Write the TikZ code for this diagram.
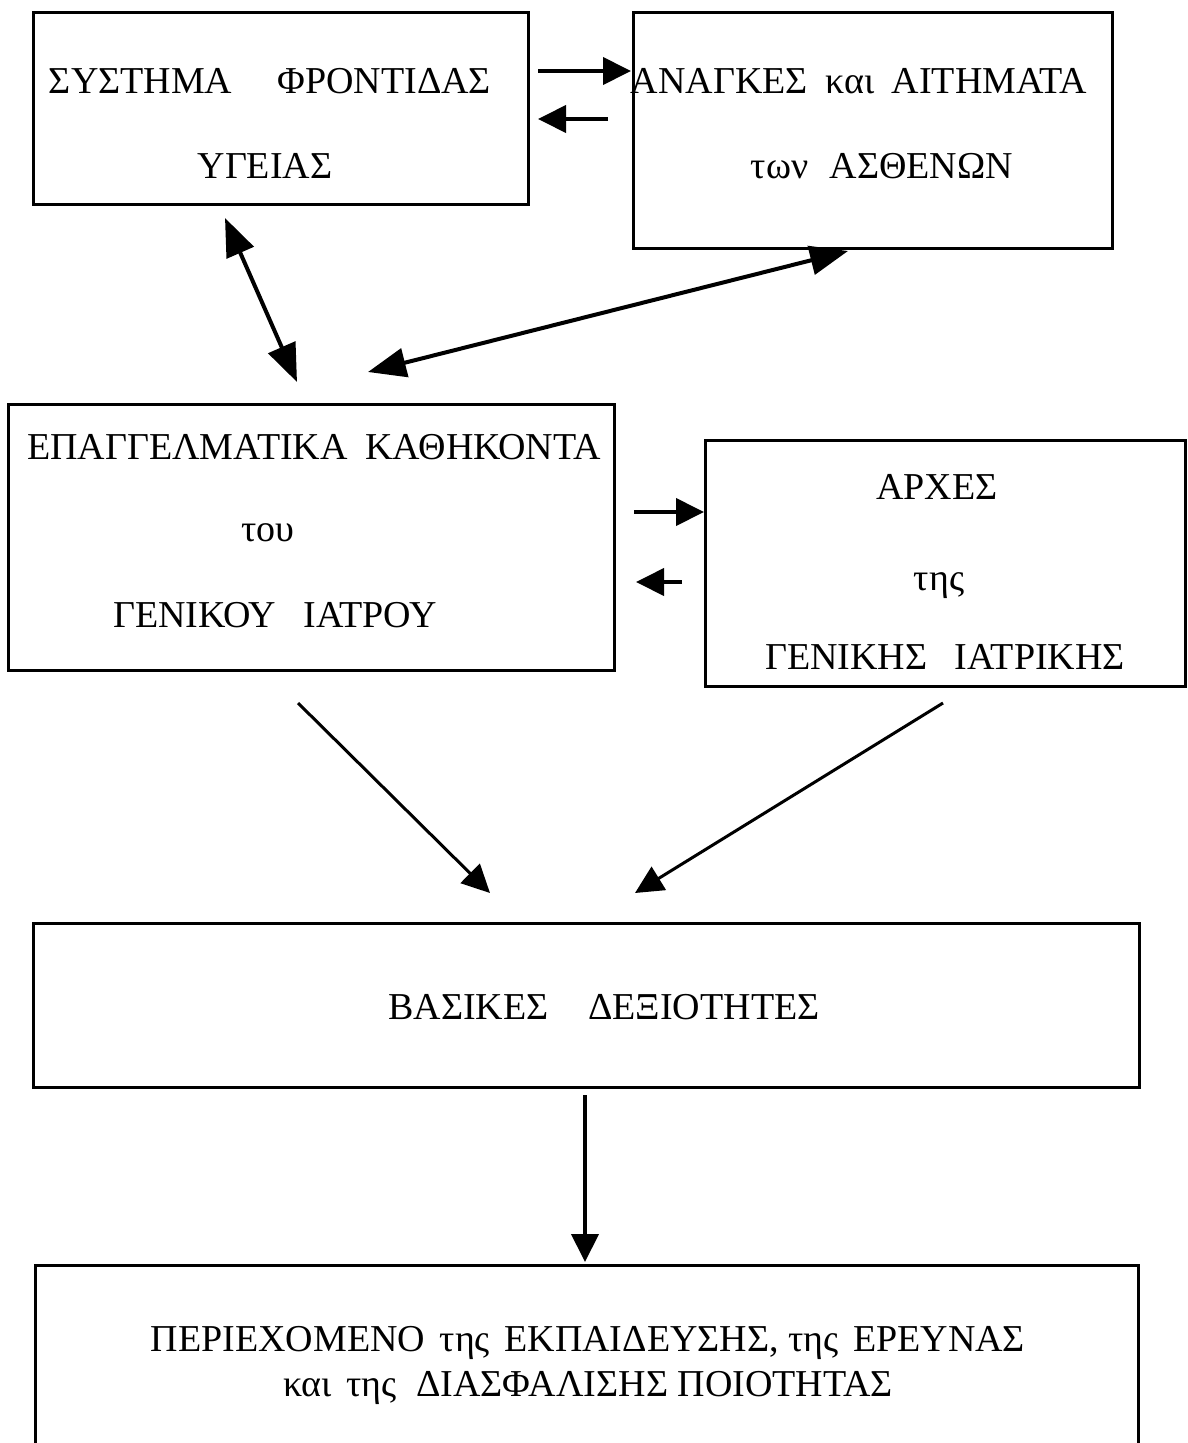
\documentclass[tikz,border=0pt]{standalone}
\usepackage{fontspec}
\setmainfont{Liberation Serif}
\usetikzlibrary{arrows.meta}
\tikzset{
  box/.style={draw=black, line width=3pt, rectangle, inner sep=0pt},
  lbl/.style={anchor=base, inner sep=0pt, font=\fontsize{38}{44}\selectfont},
  lblb/.style={anchor=base, inner sep=0pt, font=\fontsize{38}{44}\selectfont},
  arr/.style={line width=4pt, -{Triangle[length=28pt,width=27pt]}},
  darr/.style={line width=4pt, {Triangle[length=38pt,width=29pt]}-{Triangle[length=38pt,width=29pt]}}
}
\begin{document}
\begin{tikzpicture}[x=1pt,y=-1pt]
\clip (0,0) rectangle (1187,1443);
\fill[white] (0,0) rectangle (1187,1443);
% boxes
\node[box, minimum width=495pt, minimum height=192pt] (b1) at (280.5,108) {};
\node[box, minimum width=479pt, minimum height=236pt] (b2) at (872.5,130) {};
\node[box, minimum width=606pt, minimum height=266pt] (b3) at (311,537) {};
\node[box, minimum width=480pt, minimum height=246pt] (b4) at (945,563) {};
\node[box, minimum width=1106pt, minimum height=164pt] (b5) at (586,1005) {};
\node[box, minimum width=1103pt, minimum height=200pt] (b6) at (586.5,1365) {};
% texts
\node[lbl] (t1a) at (270,93) {ΣΥΣΤΗΜΑ\hspace{45pt}ΦΡΟΝΤΙΔΑΣ};
\node[lbl] (t1b) at (265,178) {ΥΓΕΙΑΣ};
\node[lbl] (t2a) at (859,93) {ΑΝΑΓΚΕΣ\hspace{8pt} και\hspace{8pt} ΑΙΤΗΜΑΤΑ};
\node[lbl] (t2b) at (882,178) {των\hspace{12pt} ΑΣΘΕΝΩΝ};
\node[lbl] (t3a) at (314,459) {ΕΠΑΓΓΕΛΜΑΤΙΚΑ\hspace{8pt} ΚΑΘΗΚΟΝΤΑ};
\node[lbl] (t3b) at (268,541) {του};
\node[lbl] (t3c) at (275,627) {ΓΕΝΙΚΟΥ\hspace{18pt} ΙΑΤΡΟΥ};
\node[lbl] (t4a) at (937,499) {ΑΡΧΕΣ};
\node[lbl] (t4b) at (939,590) {της};
\node[lbl] (t4c) at (945,669) {ΓΕΝΙΚΗΣ\hspace{18pt} ΙΑΤΡΙΚΗΣ};
\node[lbl] (t5) at (604,1019) {ΒΑΣΙΚΕΣ\hspace{30pt} ΔΕΞΙΟΤΗΤΕΣ};
\node[lblb] (t6a) at (588,1351) {ΠΕΡΙΕΧΟΜΕΝΟ\hspace{5pt} της\hspace{5pt} ΕΚΠΑΙΔΕΥΣΗΣ, της\hspace{5pt} ΕΡΕΥΝΑΣ};
\node[lblb] (t6b) at (588,1396) {και\hspace{5pt} της\hspace{10pt} ΔΙΑΣΦΑΛΙΣΗΣ ΠΟΙΟΤΗΤΑΣ};
% arrow end points
\coordinate (p1s) at (538,71);  \coordinate (p1e) at (631,71);
\coordinate (p2s) at (608,119); \coordinate (p2e) at (538,119);
\coordinate (p3s) at (225,218); \coordinate (p3e) at (297,382);
\coordinate (p4s) at (368,372); \coordinate (p4e) at (848,251);
\coordinate (p5s) at (634,512); \coordinate (p5e) at (704,512);
\coordinate (p6s) at (682,582); \coordinate (p6e) at (636,582);
\coordinate (p7s) at (298,703); \coordinate (p7e) at (490,893);
\coordinate (p8s) at (943,703); \coordinate (p8e) at (635,893);
\coordinate (p9s) at (585,1095); \coordinate (p9e) at (585,1262);
\draw[arr] (p1s) -- (p1e);
\draw[arr] (p2s) -- (p2e);
\draw[darr] (p3s) -- (p3e);
\draw[darr] (p4s) -- (p4e);
\draw[arr] (p5s) -- (p5e);
\draw[arr] (p6s) -- (p6e);
\draw[arr, line width=3pt] (p7s) -- (p7e);
\draw[arr, line width=3pt] (p8s) -- (p8e);
\draw[arr] (p9s) -- (p9e);
\end{tikzpicture}
\end{document}
